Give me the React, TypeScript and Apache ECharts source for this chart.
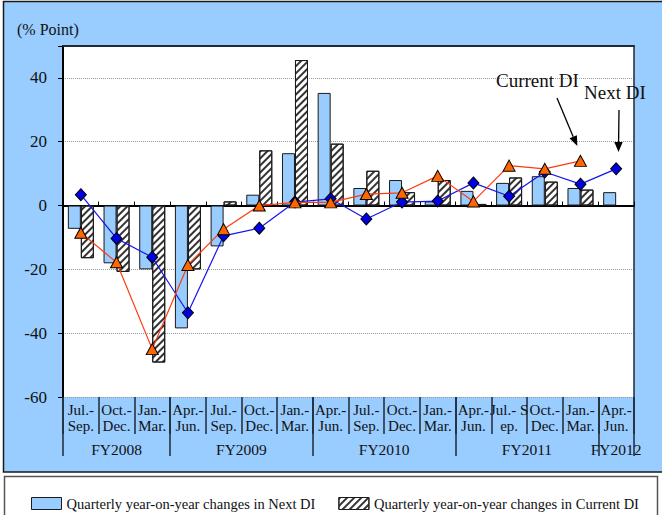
import React, { useEffect, useRef } from 'react';
import * as echarts from 'echarts';

const quarterLabels = [
  'Jul.-\nSep.', 'Oct.-\nDec.', 'Jan.-\nMar.',
  'Apr.-\nJun.', 'Jul.-\nSep.', 'Oct.-\nDec.', 'Jan.-\nMar.',
  'Apr.-\nJun.', 'Jul.-\nSep.', 'Oct.-\nDec.', 'Jan.-\nMar.',
  'Apr.-\nJun.', 'Jul.- S\nep.', 'Oct.-\nDec.', 'Jan.-\nMar.',
  'Apr.-\nJun.',
];
const fiscalYears = ['FY2008', 'FY2009', 'FY2010', 'FY2011', 'FY2012'];
const fiscalYearQuarterCounts = [3, 4, 4, 4, 1];

const nextDIBars = [-7.3, -18.1, -20.0, -38.5, -12.8, 3.4, 16.4, 35.3, 5.5, 8.0, 1.3, 4.6, 7.1, 9.2, 5.5, 4.2];
const currentDIBars = [-16.5, -20.8, -49.2, -20.0, 1.3, 17.3, 45.6, 19.4, 10.9, 4.2, 8.0, 0.5, 8.8, 7.5, 5.0, null];
const nextDILine = [3.4, -10.3, -16.2, -33.6, -9.5, -7.1, 1.1, 2.1, -4.2, 1.1, 1.4, 7.1, 2.9, 10.5, 6.7, 11.5];
const currentDILine = [-8.5, -17.8, -45.0, -18.6, -7.4, 0.0, 1.0, 1.0, 3.6, 4.0, 9.3, 1.3, 12.5, 11.5, 14.0, null];

const yMin = -60;
const yMax = 50;
const yStep = 20;

const legendNames = [
  'Quarterly year-on-year changes in Next DI',
  'Quarterly year-on-year changes in Current DI',
];

const FONT = 'Liberation Serif';

export default function App() {
  const ref = useRef<HTMLDivElement>(null);

  useEffect(() => {
    const chart = echarts.init(ref.current!, null, { renderer: 'svg' });

    const fyStarts: number[] = [];
    const fyCenterMap: Record<number, string> = {};
    let acc = 0;
    fiscalYears.forEach((fy, i) => {
      fyStarts.push(acc);
      fyCenterMap[Math.round((acc + fiscalYearQuarterCounts[i] / 2) * 2)] = fy;
      acc += fiscalYearQuarterCounts[i];
    });

    const textColor = '#111';
    const dark = '#1F2A36';

    chart.setOption({
      animation: false,
      textStyle: { fontFamily: FONT },
      graphic: [
        {
          type: 'rect', z: -1, silent: true,
          shape: { x: 3.5, y: 1.5, width: 700, height: 470.5 },
          style: { fill: '#99CCFF', stroke: '#1a1a1a', lineWidth: 1.5 },
        },
        {
          type: 'rect', z: -1, silent: true,
          shape: { x: 4.5, y: 476.5, width: 653, height: 60 },
          style: { fill: '#ffffff', stroke: '#555', lineWidth: 1.5 },
        },
        {
          type: 'text', z: 100, x: 17, y: 29,
          style: { text: '(% Point)', fontFamily: FONT, fontSize: 16, fill: textColor, verticalAlign: 'middle' },
        },
        {
          type: 'text', z: 100, x: 496, y: 80,
          style: { text: 'Current DI', fontFamily: FONT, fontSize: 19, fill: textColor, verticalAlign: 'middle' },
        },
        {
          type: 'text', z: 100, x: 584, y: 92,
          style: { text: 'Next DI', fontFamily: FONT, fontSize: 19, fill: textColor, verticalAlign: 'middle' },
        },
        {
          type: 'line', z: 100,
          shape: { x1: 557, y1: 98, x2: 573.2, y2: 136.8 },
          style: { stroke: '#000', lineWidth: 1.3 },
        },
        {
          type: 'polygon', z: 100,
          shape: { points: [[577.3, 146], [569.5, 138.3], [576.9, 135.3]] },
          style: { fill: '#000' },
        },
        {
          type: 'line', z: 100,
          shape: { x1: 619, y1: 110, x2: 618.6, y2: 142 },
          style: { stroke: '#000', lineWidth: 1.3 },
        },
        {
          type: 'polygon', z: 100,
          shape: { points: [[618.5, 152], [614.3, 142], [622.7, 142]] },
          style: { fill: '#000' },
        },
      ],
      grid: {
        left: 63, right: 28, top: 46, bottom: 118,
        show: true, backgroundColor: '#ffffff', borderWidth: 0,
        containLabel: false,
      },
      legend: {
        data: legendNames,
        left: 26, top: 491,
        itemWidth: 30, itemHeight: 12, itemGap: 23,
        icon: 'rect',
        selectedMode: false,
        textStyle: { fontFamily: FONT, fontSize: 14.5, color: textColor },
        itemStyle: { borderColor: '#1a1a1a', borderWidth: 1 },
      },
      xAxis: [
        {
          type: 'category', data: quarterLabels, position: 'bottom',
          axisLine: { show: true, onZero: true, onZeroAxisIndex: 0, lineStyle: { color: '#000', width: 2 } },
          axisTick: { show: true, inside: true, length: 4, interval: 0, lineStyle: { color: '#000', width: 1 } },
          axisLabel: { show: false },
          splitLine: { show: false },
        },
        {
          type: 'category', data: quarterLabels, position: 'bottom',
          axisLine: { show: false, onZero: false },
          axisTick: { show: true, interval: 0, length: 37, lineStyle: { color: dark, width: 1.5 } },
          axisLabel: {
            interval: 0, margin: 5, fontFamily: FONT, fontSize: 15, lineHeight: 16, color: textColor,
          },
          splitLine: { show: false },
        },
        {
          type: 'category', data: quarterLabels, position: 'bottom',
          axisLine: { show: false, onZero: false },
          axisTick: {
            show: true, length: 59,
            interval: (i: number) => fyStarts.indexOf(i) >= 0,
            lineStyle: { color: dark, width: 1.5 },
          },
          axisLabel: { show: false },
          splitLine: { show: false },
        },
        {
          type: 'value', min: 0, max: quarterLabels.length, interval: 0.5, position: 'bottom',
          axisLine: { show: false, onZero: false },
          axisTick: { show: false },
          splitLine: { show: false },
          axisLabel: {
            margin: 44, fontFamily: FONT, fontSize: 15.5, color: textColor,
            showMinLabel: true, showMaxLabel: true,
            formatter: (v: number) => fyCenterMap[Math.round(v * 2)] || '',
          },
        },
        {
          type: 'category', data: quarterLabels, position: 'top',
          axisLine: { show: true, onZero: false, lineStyle: { color: dark, width: 2 } },
          axisTick: { show: false },
          axisLabel: { show: false },
          splitLine: { show: false },
        },
      ],
      yAxis: [
        {
          type: 'value', min: yMin, max: yMax, interval: yStep,
          axisLine: { show: true, onZero: false, lineStyle: { color: '#000', width: 2 } },
          axisTick: { show: true, length: 5, lineStyle: { color: '#000', width: 1 } },
          axisLabel: {
            margin: 16, fontFamily: FONT, fontSize: 17, color: textColor,
            formatter: (v: number) => (v === yMax ? '' : String(v)),
          },
          splitLine: { show: true, lineStyle: { color: '#9a9a9a', type: 'dotted', width: 1 } },
        },
        {
          type: 'value', min: yMin, max: yMax, interval: yStep, position: 'right',
          axisLine: { show: true, onZero: false, lineStyle: { color: dark, width: 1.5 } },
          axisTick: { show: false },
          axisLabel: { show: false },
          splitLine: { show: false },
        },
      ],
      series: [
        {
          type: 'bar', name: legendNames[0], data: nextDIBars,
          barWidth: 13, barGap: '0%',
          itemStyle: { color: '#99CCFF', borderColor: '#1a1a1a', borderWidth: 1 },
        },
        {
          type: 'bar', name: legendNames[1], data: currentDIBars,
          barWidth: 13, barGap: '0%',
          itemStyle: {
            color: '#ffffff', borderColor: '#1a1a1a', borderWidth: 1,
            decal: {
              symbol: 'rect', symbolSize: 1, color: '#333',
              dashArrayX: [1, 0], dashArrayY: [1.2, 2.6], rotation: -Math.PI / 4,
            },
          },
        },
        {
          type: 'line', name: 'Next DI', data: nextDILine, z: 3,
          symbol: 'diamond', symbolSize: [11, 12],
          lineStyle: { color: '#1414F0', width: 1.2 },
          itemStyle: { color: '#0000E6', borderColor: '#000', borderWidth: 1 },
        },
        {
          type: 'line', name: 'Current DI', data: currentDILine, z: 4,
          symbol: 'triangle', symbolSize: [12, 11],
          lineStyle: { color: '#FF3A10', width: 1.2 },
          itemStyle: { color: '#FF6600', borderColor: '#000', borderWidth: 1 },
        },
      ],
    });

    return () => chart.dispose();
  }, []);

  return (
    <div
      ref={ref}
      style={{ position: 'absolute', left: 0, top: 0, width: 662, height: 515 }}
    />
  );
}
